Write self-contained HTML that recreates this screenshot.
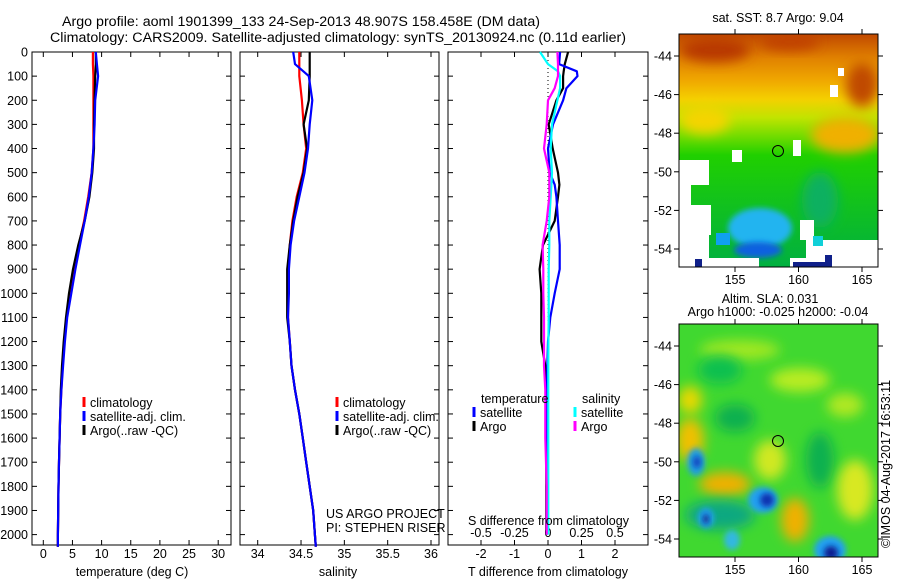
<!DOCTYPE html>
<html><head><meta charset="utf-8"><style>
html,body{margin:0;padding:0;background:#fff;}
svg{display:block;font-family:"Liberation Sans",sans-serif;}
text{font-size:12.5px;fill:#000;}
</style></head><body>
<svg id="chart" width="900" height="580" viewBox="0 0 900 580" xmlns="http://www.w3.org/2000/svg">
<defs>
<filter id="blur6" x="-50%" y="-50%" width="200%" height="200%"><feGaussianBlur stdDeviation="6"/></filter>
<filter id="blur3" x="-50%" y="-50%" width="200%" height="200%"><feGaussianBlur stdDeviation="3"/></filter>
<linearGradient id="sstgrad" x1="0" y1="0" x2="0" y2="1">
<stop offset="0" stop-color="#c04800"/><stop offset="0.1" stop-color="#e08000"/><stop offset="0.2" stop-color="#f0a800"/>
<stop offset="0.28" stop-color="#f4d000"/><stop offset="0.36" stop-color="#c0e400"/><stop offset="0.44" stop-color="#70dc00"/>
<stop offset="0.52" stop-color="#20d000"/><stop offset="0.75" stop-color="#10c020"/><stop offset="1" stop-color="#00b040"/>
</linearGradient>
<clipPath id="clipTop"><rect x="679" y="34" width="199" height="233"/></clipPath>
<clipPath id="clipBot"><rect x="679" y="324" width="199" height="233"/></clipPath>
</defs>
<text x="62" y="26" textLength="478" lengthAdjust="spacingAndGlyphs" style="font-size:13.5px">Argo profile: aoml 1901399_133 24-Sep-2013 48.907S 158.458E (DM data)</text>
<text x="50" y="42" textLength="576" lengthAdjust="spacingAndGlyphs" style="font-size:13.5px">Climatology: CARS2009. Satellite-adjusted climatology: synTS_20130924.nc (0.11d earlier)</text>
<g id="panels"></g>
<!-- top map -->
<g clip-path="url(#clipTop)">
<rect x="679" y="34" width="199" height="233" fill="url(#sstgrad)"/>
<ellipse cx="715" cy="50" rx="35" ry="12" fill="#b83800" filter="url(#blur6)"/>
<ellipse cx="790" cy="42" rx="30" ry="8" fill="#c04000" filter="url(#blur6)"/>
<ellipse cx="862" cy="85" rx="16" ry="22" fill="#c04800" filter="url(#blur6)"/>
<ellipse cx="845" cy="135" rx="34" ry="18" fill="#f0b000" filter="url(#blur6)"/>
<ellipse cx="705" cy="120" rx="25" ry="14" fill="#f4d400" filter="url(#blur6)"/>
<ellipse cx="820" cy="200" rx="18" ry="28" fill="#10b060" filter="url(#blur6)"/>
<ellipse cx="760" cy="228" rx="32" ry="20" fill="#20b4f0" filter="url(#blur3)"/>
<ellipse cx="758" cy="250" rx="24" ry="8" fill="#1060e0" filter="url(#blur3)"/>
<rect x="679" y="160" width="30" height="25" fill="#fff"/>
<rect x="679" y="185" width="12" height="82" fill="#fff"/>
<rect x="691" y="205" width="20" height="30" fill="#fff"/>
<rect x="679" y="228" width="30" height="40" fill="#fff"/>
<rect x="732" y="150" width="10" height="12" fill="#fff"/>
<rect x="793" y="140" width="8" height="16" fill="#fff"/>
<rect x="806" y="240" width="72" height="28" fill="#fff"/>
<rect x="790" y="258" width="20" height="10" fill="#fff"/>
<rect x="709" y="258" width="50" height="10" fill="#fff"/>
<rect x="800" y="220" width="14" height="20" fill="#fff"/>
<rect x="838" y="68" width="6" height="8" fill="#fff"/>
<rect x="830" y="85" width="8" height="12" fill="#fff"/>
<rect x="716" y="233" width="14" height="12" fill="#10a0f0"/>
<rect x="793" y="262" width="33" height="6" fill="#10208a"/>
<rect x="695" y="259" width="7" height="8" fill="#10208a"/>
<rect x="825" y="255" width="7" height="12" fill="#10208a"/>
<rect x="813" y="236" width="10" height="10" fill="#10d0d8"/>
</g>
<rect x="679" y="34" width="199" height="233" fill="none" stroke="#000"/>
<circle cx="778" cy="151" r="5.5" fill="none" stroke="#000"/>
<text x="778" y="22" text-anchor="middle">sat. SST: 8.7 Argo: 9.04</text>
<!-- bottom map -->
<g clip-path="url(#clipBot)">
<rect x="679" y="324" width="199" height="233" fill="#40d830"/>
<ellipse cx="740" cy="350" rx="40" ry="10" fill="#a0e820" filter="url(#blur6)"/>
<ellipse cx="800" cy="380" rx="30" ry="12" fill="#b8ec20" filter="url(#blur6)"/>
<ellipse cx="845" cy="405" rx="18" ry="12" fill="#b0e820" filter="url(#blur6)"/>
<ellipse cx="720" cy="370" rx="22" ry="14" fill="#10c050" filter="url(#blur6)"/>
<ellipse cx="735" cy="418" rx="20" ry="14" fill="#10b050" filter="url(#blur6)"/>
<ellipse cx="820" cy="460" rx="14" ry="28" fill="#10b050" filter="url(#blur6)"/>
<ellipse cx="690" cy="440" rx="14" ry="22" fill="#f0c000" filter="url(#blur6)"/>
<ellipse cx="690" cy="400" rx="12" ry="14" fill="#e8d800" filter="url(#blur6)"/>
<ellipse cx="725" cy="484" rx="26" ry="12" fill="#f0b000" filter="url(#blur6)"/>
<ellipse cx="795" cy="520" rx="14" ry="22" fill="#f0b000" filter="url(#blur6)"/>
<ellipse cx="770" cy="460" rx="16" ry="20" fill="#d0e820" filter="url(#blur6)"/>
<ellipse cx="855" cy="490" rx="18" ry="30" fill="#d8e820" filter="url(#blur6)"/>
<ellipse cx="720" cy="515" rx="35" ry="15" fill="#10a880" filter="url(#blur6)"/>
<ellipse cx="696" cy="462" rx="9" ry="14" fill="#20a0e0" filter="url(#blur3)"/>
<ellipse cx="697" cy="462" rx="4" ry="6" fill="#1040c0" filter="url(#blur3)"/>
<ellipse cx="763" cy="500" rx="15" ry="13" fill="#20a0f0" filter="url(#blur3)"/>
<ellipse cx="767" cy="500" rx="7" ry="7" fill="#1030b0" filter="url(#blur3)"/>
<ellipse cx="706" cy="518" rx="8" ry="10" fill="#20a0f0" filter="url(#blur3)"/>
<ellipse cx="706" cy="519" rx="3" ry="5" fill="#102080" filter="url(#blur3)"/>
<ellipse cx="830" cy="550" rx="16" ry="14" fill="#20a0f0" filter="url(#blur3)"/>
<ellipse cx="831" cy="553" rx="7" ry="7" fill="#101a90" filter="url(#blur3)"/>
<ellipse cx="732" cy="540" rx="8" ry="10" fill="#30b8e0" filter="url(#blur3)"/>
</g>
<rect x="679" y="324" width="199" height="233" fill="none" stroke="#000"/>
<circle cx="778" cy="441" r="5.5" fill="none" stroke="#000"/>
<text x="770" y="303" text-anchor="middle">Altim. SLA: 0.031</text>
<text x="778" y="316" text-anchor="middle">Argo h1000: -0.025 h2000: -0.04</text>
<text transform="translate(890,548) rotate(-90)" style="font-size:12.5px">©IMOS 04-Aug-2017 16:53:11</text>
<g id="maps-axes"></g>
</svg>
<script>
// ===== data =====
const depthLevels = [0,50,100,200,300,400,500,600,700,800,900,1000,1100,1200,1300,1400,1500,1600,1700,1800,1900,2000,2050];
const tempClim   = [8.5,8.5,8.6,8.6,8.6,8.6,8.3,7.7,7.0,6.1,5.3,4.6,4.0,3.6,3.3,3.1,2.9,2.8,2.7,2.6,2.55,2.5,2.5];
const tempSat    = [9.0,9.2,9.4,8.9,8.8,8.6,8.3,7.8,7.1,6.3,5.5,4.8,4.1,3.7,3.4,3.1,2.9,2.8,2.7,2.6,2.55,2.5,2.5];
const tempArgo   = [9.0,9.0,8.9,8.8,8.7,8.7,8.4,7.9,7.1,6.0,5.1,4.4,3.9,3.5,3.2,3.0,2.9,2.8,2.7,2.6,2.55,2.5,2.5];
const salClim    = [34.48,34.48,34.48,34.51,34.53,34.56,34.52,34.45,34.40,34.37,34.35,34.35,34.35,34.37,34.39,34.43,34.48,34.52,34.56,34.60,34.64,34.66,34.67];
const salSat     = [34.41,34.43,34.59,34.63,34.60,34.58,34.54,34.48,34.42,34.38,34.36,34.36,34.35,34.37,34.39,34.43,34.48,34.52,34.56,34.60,34.64,34.66,34.67];
const salArgo    = [34.60,34.60,34.60,34.59,34.53,34.57,34.53,34.46,34.41,34.37,34.34,34.34,34.34,34.37,34.39,34.43,34.48,34.52,34.56,34.60,34.64,34.66,34.67];
const diffDepths = [0,50,80,100,150,200,300,400,500,550,600,700,800,900,1000,1100,1200,1300,1400,1600,1800,2000];
const tDiffSat   = [0.36,0.33,0.86,0.88,0.55,0.45,0.15,0.0,0.05,0.2,0.25,0.3,0.35,0.35,0.2,0.07,0.0,-0.02,-0.03,-0.03,-0.03,-0.03];
const tDiffArgo  = [0.6,0.5,0.47,0.45,0.45,0.25,0.02,0.14,0.3,0.34,0.3,0.2,-0.15,-0.25,-0.2,-0.2,-0.2,-0.08,-0.06,-0.05,-0.05,-0.05];
const sDiffSat   = [-0.06,0.0,0.075,0.09,0.09,0.07,0.03,0.02,0.03,0.025,0.02,0.01,0.01,0.005,0.005,0.005,0.003,0.002,0.002,0.002,0.002,0.002];
const sDiffArgo  = [0.07,0.075,0.075,0.075,0.05,0.0,-0.01,-0.03,0.01,0.01,0.01,-0.01,-0.04,-0.035,-0.035,-0.03,-0.03,-0.03,-0.02,-0.02,-0.01,-0.01];
const depthTicks = [0,100,200,300,400,500,600,700,800,900,1000,1100,1200,1300,1400,1500,1600,1700,1800,1900,2000];
const tempTicks  = [0,5,10,15,20,25,30];
const salTicks   = [34,34.5,35,35.5,36];
const tdTicks    = [-2,-1,0,1,2];
const sdTicks    = [-0.5,-0.25,0,0.25,0.5];
const latTicks   = [-44,-46,-48,-50,-52,-54];
const lonTicks   = [155,160,165];

const NS='http://www.w3.org/2000/svg';
const root=document.getElementById('panels');
function mk(tag,attrs,parent,txt){const e=document.createElementNS(NS,tag);for(const k in attrs)e.setAttribute(k,attrs[k]);if(txt!==undefined)e.textContent=txt;(parent||root).appendChild(e);return e;}
const top0=52, bot0=545;
const yD=d=>top0+d*0.2413;
const panels=[
 {x0:32,x1:231,sx:v=>43.3+v*5.83,ticks:tempTicks,name:'temperature'},
 {x0:240,x1:439,sx:v=>257.7+(v-34)*86.65,ticks:salTicks,name:'salinity'},
 {x0:448,x1:648,sx:v=>548+v*33.5,ticks:tdTicks,name:'difference'}
];
const sS=v=>548+v*134;
panels.forEach((p,i)=>{
  const fr=mk('rect',{x:p.x0,y:top0,width:p.x1-p.x0,height:bot0-top0,fill:'none',stroke:'#000'});
  
  
  depthTicks.forEach(d=>{
    const y=yD(d);
    mk('line',{x1:p.x0,x2:p.x0+5,y1:y,y2:y,stroke:'#000'});
    mk('line',{x1:p.x1,x2:p.x1-5,y1:y,y2:y,stroke:'#000'});
  });
  p.ticks.forEach(v=>{
    const x=p.sx(v);
    mk('line',{x1:x,x2:x,y1:bot0,y2:bot0-5,stroke:'#000'});
    mk('line',{x1:x,x2:x,y1:top0,y2:top0+5,stroke:'#000'});
    const t=mk('text',{x:x,y:558,'text-anchor':'middle'},null,String(v));
    
    
  });
});
depthTicks.forEach(d=>{
  const t=mk('text',{x:28,y:yD(d)+4.5,'text-anchor':'end'},null,String(d));
  
  
});
sdTicks.forEach(v=>{
  const t=mk('text',{x:sS(v),y:537,'text-anchor':'middle'},null,String(v));
  
  
});
const zl=mk('line',{x1:548,x2:548,y1:top0,y2:bot0,stroke:'#000','stroke-dasharray':'1,3'});



function series(depths,vals,sx,color,name){
  const pts=vals.map((v,i)=>sx(v).toFixed(1)+','+yD(depths[i]).toFixed(1)).join(' ');
  const e=mk('polyline',{points:pts,fill:'none',stroke:color,'stroke-width':2.2,'stroke-linejoin':'round'});
  
  
}
const P=panels;
series(depthLevels,tempClim,P[0].sx,'#ff0000','temperature-climatology-line');
series(depthLevels,tempArgo,P[0].sx,'#000000','temperature-argo-line');
series(depthLevels,tempSat,P[0].sx,'#0000ff','temperature-satellite-line');
series(depthLevels,salClim,P[1].sx,'#ff0000','salinity-climatology-line');
series(depthLevels,salArgo,P[1].sx,'#000000','salinity-argo-line');
series(depthLevels,salSat,P[1].sx,'#0000ff','salinity-satellite-line');
series(diffDepths,tDiffArgo,P[2].sx,'#000000','t-diff-argo-line');
series(diffDepths,tDiffSat,P[2].sx,'#0000ff','t-diff-satellite-line');
series(diffDepths,sDiffSat,sS,'#00ffff','s-diff-satellite-line');
series(diffDepths,sDiffArgo,sS,'#ff00ff','s-diff-argo-line');

function legend(x,y,color,label,name){
  mk('line',{x1:x,x2:x,y1:y-10,y2:y,stroke:color,'stroke-width':3});
  const t=mk('text',{x:x+6,y:y},null,label);
  
  
}
[[84,'T'],[337,'S']].forEach(([lx,k])=>{
  legend(lx,407,'#ff0000','climatology','legend-climatology-'+k);
  legend(lx,421,'#0000ff','satellite-adj. clim.','legend-satellite-'+k);
  legend(lx,435,'#000000','Argo(..raw -QC)','legend-argo-'+k);
});
let t;
t=mk('text',{x:481,y:403},null,'temperature');
t=mk('text',{x:582,y:403},null,'salinity');
legend(474,417,'#0000ff','satellite','legend-t-satellite');
legend(474,431,'#000000','Argo','legend-t-argo');
legend(575,417,'#00ffff','satellite','legend-s-satellite');
legend(575,431,'#ff00ff','Argo','legend-s-argo');
t=mk('text',{x:326,y:518},null,'US ARGO PROJECT');
t=mk('text',{x:326,y:532},null,'PI: STEPHEN RISER');
t=mk('text',{x:468,y:525},null,'S difference from climatology');
t=mk('text',{x:132,y:576,'text-anchor':'middle'},null,'temperature (deg C)');
t=mk('text',{x:338,y:576,'text-anchor':'middle'},null,'salinity');
t=mk('text',{x:548,y:576,'text-anchor':'middle'},null,'T difference from climatology');

const mroot=document.getElementById('maps-axes');
const lonX=l=>735+(l-155)*12.7;
[[34,267,56,284],[324,557,346,574]].forEach(([y0,y1,ly44,labY],mi)=>{
  latTicks.forEach(la=>{
    const y=ly44+(-44-la)*19.3;
    mk('line',{x1:679,x2:674,y1:y,y2:y,stroke:'#000'},mroot);
    mk('line',{x1:878,x2:883,y1:y,y2:y,stroke:'#000'},mroot);
    const tt=mk('text',{x:672,y:y+4.5,'text-anchor':'end'},mroot,String(la));
    
    
  });
  lonTicks.forEach(lo=>{
    const x=lonX(lo);
    mk('line',{x1:x,x2:x,y1:y1,y2:y1+5,stroke:'#000'},mroot);
    mk('line',{x1:x,x2:x,y1:y0,y2:y0-5,stroke:'#000'},mroot);
    const tt=mk('text',{x:x,y:labY,'text-anchor':'middle'},mroot,String(lo));
    
    
  });
});
</script>
</body></html>
